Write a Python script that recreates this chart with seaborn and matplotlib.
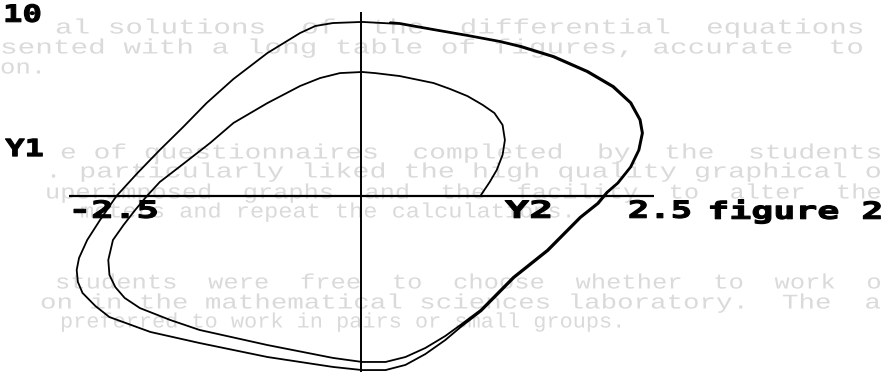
import matplotlib
matplotlib.use("Agg")
import matplotlib.pyplot as plt
import matplotlib.patheffects as pe
from matplotlib.transforms import Affine2D
import seaborn as sns
import pandas as pd

# Phase-plane trajectory: horizontal axis Y2, vertical axis Y1.
# One path spiralling outward from its starting point on the Y2 axis;
# the last stretch retraces the right-hand side of the outer loop.
y2_vals = [
    1.02, 1.10, 1.16, 1.21, 1.23, 1.21, 1.14, 1.04, 0.91, 0.76, 0.62, 0.33, 0.12, 0.01,
    -0.18, -0.35, -0.52, -0.80, -1.09, -1.29, -1.52, -1.72, -1.83, -1.93, -2.03, -2.12,
    -2.16, -2.15, -2.10, -2.02, -1.89, -1.63, -1.38, -0.80, -0.24, 0.01, 0.21, 0.38,
    0.55, 0.72,
    0.85, 1.02, 1.30, 1.59, 1.87, 2.02, 2.10, 2.19, 2.30, 2.37, 2.40, 2.38,
    2.30, 2.15, 1.93, 1.64, 1.36, 1.19, 0.91, 0.62, 0.33, 0.01, -0.24, -0.39, -0.52,
    -0.80, -1.09, -1.32, -1.52, -1.72, -1.91, -2.09, -2.23, -2.34, -2.41, -2.43,
    -2.42, -2.38, -2.27, -2.15, -1.80, -1.38, -0.80, -0.24, 0.01, 0.21, 0.38, 0.55,
    0.72, 0.86,
    1.03, 1.31, 1.60, 1.88, 2.03, 2.11, 2.20, 2.31, 2.38, 2.41, 2.39, 2.31,
    2.16, 1.94, 1.65, 1.37, 1.19, 0.91, 0.62, 0.33, 0.25,
]
y1_vals = [
    0.00, 0.76, 1.41, 2.23, 3.04, 3.86, 4.51, 4.95, 5.43, 5.82, 6.14, 6.52, 6.68, 6.74,
    6.68, 6.41, 5.98, 5.05, 3.97, 2.88, 1.74, 0.76, 0.00, -0.76, -1.58, -2.39,
    -3.48, -4.29, -4.95, -5.54, -6.09, -6.74, -7.28, -8.10, -8.80, -9.02, -9.02, -8.75,
    -8.26, -7.61,
    -7.01, -6.20, -4.40, -2.93, -1.14, -0.38, 0.22, 0.71, 1.58, 2.50, 3.42, 4.13,
    5.05, 5.92, 6.74, 7.55, 8.10, 8.37, 8.70, 9.02, 9.35, 9.46, 9.40, 9.24, 8.86,
    7.77, 6.36, 5.05, 3.75, 2.50, 1.25, 0.00, -1.30, -2.39, -3.37, -4.02,
    -4.67, -5.27, -5.98, -6.58, -7.39, -7.99, -8.75, -9.29, -9.46, -9.46, -9.18, -8.59,
    -7.83, -7.08,
    -6.25, -4.45, -2.98, -1.18, -0.42, 0.20, 0.70, 1.58, 2.50, 3.42, 4.15, 5.08,
    5.97, 6.79, 7.60, 8.15, 8.42, 8.75, 9.07, 9.40, 9.44,
]

# Axis extents and the labels printed along them
y2_range = [-2.5, 2.5]
y1_range = [-10, 10]
y1_top_label = "10"
y2_left_label = "-2.5"
y2_right_label = "2.5"
caption = "figure 2"

# Faint typed text showing through the page: (left px, centre px, right px, text)
page_lines = [
    (55, 28, 862, "al solutions  of  the  differential  equations"),
    (0, 48, 862, "sented with a long table of figures, accurate  to"),
    (0, 68, 40, "on."),
    (60, 153, 880, "e of questionnaires  completed  by  the  students"),
    (45, 172, 880, ". particularly liked the high quality graphical o"),
    (45, 193, 880, "uperimposed  graphs  and  the  facility  to  alter  the"),
    (80, 212, 570, "meters and repeat the calculations."),
    (55, 283, 880, "students  were  free  to  choose  whether  to  work  o"),
    (40, 303, 880, "on in the mathematical sciences laboratory.  The  a"),
    (60, 322, 620, "preferred to work in pairs or small groups."),
]


class FitWidth(pe.AbstractPathEffect):
    """Stretch a text's glyphs horizontally to a given width in pixels,
    like the wide characters of a dot-matrix printer, with an optional
    outline to thicken the strokes."""

    def __init__(self, width_px, stroke=0.0):
        super().__init__()
        self.width_px = width_px
        self.stroke = stroke

    def draw_path(self, renderer, gc, tpath, affine, rgbFace=None):
        verts = affine.transform(tpath.vertices)
        x0, x1 = verts[:, 0].min(), verts[:, 0].max()
        if x1 - x0 > 0:
            sx = self.width_px / (x1 - x0)
            affine = affine + Affine2D().translate(-x0, 0).scale(sx, 1).translate(x0, 0)
        if self.stroke > 0:
            gc0 = renderer.new_gc()
            gc0.copy_properties(gc)
            gc0.set_linewidth(self.stroke)
            gc0.set_foreground(rgbFace)
            gc0.set_joinstyle("round")
            renderer.draw_path(gc0, tpath, affine, rgbFace)
            gc0.restore()
        else:
            renderer.draw_path(gc, tpath, affine, rgbFace)


sns.set_style("white")
W, H = 885, 372
fig = plt.figure(figsize=(W / 100, H / 100), dpi=100)
ax = fig.add_axes([0, 0, 1, 1])
ax.set_xlim(-361 / 117, (W - 361) / 117)
ax.set_ylim((196 - H) / 18.4, 196 / 18.4)
ax.axis("off")

for left, mid, right, line in page_lines:
    ax.text(left / W, 1 - mid / H, line, transform=ax.transAxes, ha="left", va="center",
            family="Liberation Mono", fontsize=15, color="#dadada", zorder=0,
            path_effects=[FitWidth(right - left)])

ax.hlines(0, *y2_range, color="black", lw=1.6, zorder=2)
ax.vlines(0, *y1_range, color="black", lw=1.4, zorder=2)

df = pd.DataFrame({"Y2": y2_vals, "Y1": y1_vals})
sns.lineplot(data=df, x="Y2", y="Y1", sort=False, estimator=None, color="black",
             lw=1.3, ax=ax, zorder=3)

lab = dict(family="DejaVu Sans Mono", fontweight="bold", fontsize=17, color="black",
           ha="left", zorder=4)
ax.text(-3.06, 9.85, y1_top_label, va="center", path_effects=[FitWidth(37, 0.8)], **lab)
ax.text(-3.04, 2.55, "Y1", va="center", path_effects=[FitWidth(37, 0.8)], **lab)
ax.text(-2.5, -0.15, y2_left_label, va="top", path_effects=[FitWidth(88, 0.8)], **lab)
ax.text(1.23, -0.15, "Y2", va="top", path_effects=[FitWidth(45, 0.8)], **lab)
ax.text(2.28, -0.15, y2_right_label, va="top", path_effects=[FitWidth(62, 0.8)], **lab)
ax.text(2.96, -0.15, caption, va="top", path_effects=[FitWidth(173, 0.8)], **lab)

fig.savefig("out.png", dpi=100, facecolor="white")
